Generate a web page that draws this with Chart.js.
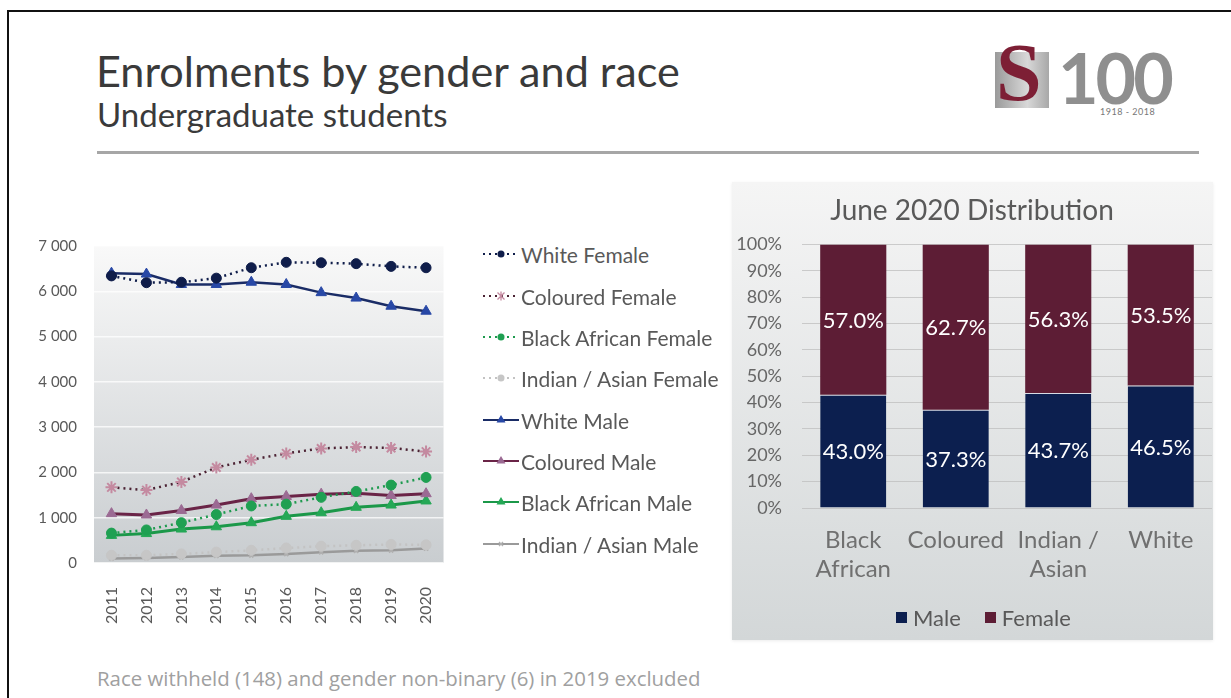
<!DOCTYPE html>
<html>
<head>
<meta charset="utf-8">
<script src="https://cdn.jsdelivr.net/npm/chart.js@4.4.0/dist/chart.umd.min.js"></script>
<style>
  html, body { margin:0; padding:0; background:#fff; }
  body { width:1231px; height:698px; position:relative; overflow:hidden; font-family:Lato, "Open Sans", sans-serif; }
  .frame { position:absolute; left:7px; top:10px; right:-5px; bottom:-5px; border-left:2px solid #111; border-top:2px solid #111; }
  .title { position:absolute; left:96px; top:44px; font-size:43.2px; color:#3a3a3a; white-space:nowrap; }
  .subtitle { position:absolute; left:97px; top:94px; font-size:33px; color:#3a3a3a; white-space:nowrap; }
  .rule { position:absolute; left:97px; top:151px; width:1102px; height:3px; background:#a6a6a6; }
  .footer { position:absolute; left:97px; top:664px; font-family:"Open Sans", sans-serif; font-size:20.4px; color:#a0a0a0; white-space:nowrap; }
  .panel { position:absolute; left:732px; top:182px; width:481px; height:458px;
           background:linear-gradient(#f5f5f5, #d3d7d8); box-shadow:0 1px 3px rgba(0,0,0,0.08); }
  #lineWrap { position:absolute; left:30px; top:220px; width:440px; height:410px; }
  #barWrap { position:absolute; left:732px; top:182px; width:481px; height:458px; }
  .legend { position:absolute; left:482px; top:0; }
  .legItem { position:absolute; left:0; height:26px; display:flex; align-items:center; white-space:nowrap; font-size:21px; color:#595959; }
  .legItem canvas { margin-right:1px; }
  .barLegend { position:absolute; left:896px; top:603px; height:28px; display:flex; align-items:center; white-space:nowrap; font-size:22px; color:#595959; }
  .barLegend .sw { display:inline-block; width:11px; height:11px; margin-right:6px; }
  .logoBox { position:absolute; left:995px; top:52px; width:54px; height:56px; background:linear-gradient(90deg,#9a9a9a,#d8d8d8 60%,#a8a8a8); }
  .logoS { position:absolute; left:996px; top:32px; font-family:"Liberation Serif", serif; font-weight:bold; font-size:82px; color:#7d1f35; line-height:1; }
  .logo100 { position:absolute; left:1058px; top:42px; font-family:Lato, sans-serif; font-weight:700; font-size:70px; letter-spacing:-3px; line-height:1; color:#8f8f8f; }
  .logoYears { position:absolute; left:1100px; top:106px; font-size:9px; color:#777777; letter-spacing:0.5px; }
</style>
</head>
<body>
<div class="frame"></div>
<div class="title">Enrolments by gender and race</div>
<div class="subtitle">Undergraduate students</div>
<div class="rule"></div>
<div class="logoBox"></div>
<div class="logoS">S</div>
<div class="logo100">100</div>
<div class="logoYears">1918 - 2018</div>
<div class="panel"></div>
<div id="lineWrap"><canvas id="lineChart" width="440" height="410"></canvas></div>
<div id="barWrap"><canvas id="barChart" width="481" height="458"></canvas></div>
<div class="legend" id="legend"></div>
<div class="barLegend" id="barLegend"></div>
<div class="footer">Race withheld (148) and gender non-binary (6) in 2019 excluded</div>

<script>
// ---------- DATA ----------
const years = ['2011','2012','2013','2014','2015','2016','2017','2018','2019','2020'];
const whiteFemale    = [6340, 6190, 6200, 6290, 6520, 6640, 6630, 6610, 6550, 6520];
const colouredFemale = [1670, 1610, 1790, 2110, 2280, 2420, 2530, 2560, 2540, 2460];
const blackFemale    = [660, 730, 890, 1070, 1260, 1300, 1450, 1580, 1720, 1890];
const indianFemale   = [170, 170, 200, 240, 280, 330, 370, 390, 410, 400];
const whiteMale      = [6400, 6380, 6150, 6150, 6200, 6150, 5970, 5850, 5670, 5560];
const colouredMale   = [1090, 1060, 1160, 1280, 1420, 1470, 1520, 1540, 1490, 1530];
const blackMale      = [610, 650, 750, 800, 890, 1030, 1110, 1230, 1280, 1370];
const indianMale     = [100, 110, 130, 160, 170, 200, 240, 270, 280, 320];
const yTickValues    = [0, 1000, 2000, 3000, 4000, 5000, 6000, 7000];

const groups      = [['Black','African'], 'Coloured', ['Indian /','Asian'], 'White'];
const maleShare   = [43.0, 37.3, 43.7, 46.5];
const femaleShare = [57.0, 62.7, 56.3, 53.5];
const pctTicks    = [0,10,20,30,40,50,60,70,80,90,100];

// ---------- LINE CHART ----------
const DOT = [2, 4];
const lineSeries = [
  {label:'White Female', data:whiteFemale, line:'#0f1d4a', fill:'#0f1d4a', dash:DOT, style:'circle', r:5, w:2.5},
  {label:'Coloured Female', data:colouredFemale, line:'#4b2233', fill:'#c48aa0', dash:DOT, style:'star', r:6, w:2.5},
  {label:'Black African Female', data:blackFemale, line:'#1d9a4e', fill:'#1fa052', dash:DOT, style:'circle', r:5, w:2.5},
  {label:'Indian / Asian Female', data:indianFemale, line:'#c3c3c3', fill:'#c6c6c6', dash:DOT, style:'circle', r:5, w:2.5},
  {label:'White Male', data:whiteMale, line:'#1a2c66', fill:'#2848a6', dash:[], style:'triangle', r:6, w:2.5},
  {label:'Coloured Male', data:colouredMale, line:'#6a2447', fill:'#9b6a93', dash:[], style:'triangle', r:6, w:3},
  {label:'Black African Male', data:blackMale, line:'#1b9849', fill:'#25a856', dash:[], style:'triangle', r:6, w:3},
  {label:'Indian / Asian Male', data:indianMale, line:'#9a9a9a', fill:'#b0b0b0', dash:[], style:'crossRot', r:3, w:2.5}
];

const plotBg = {
  id:'plotBg',
  beforeDraw(chart){
    const {ctx, chartArea:a} = chart;
    const g = ctx.createLinearGradient(0, a.top, 0, a.bottom);
    g.addColorStop(0, '#f9f9f9');
    g.addColorStop(1, '#c9cdd0');
    ctx.save(); ctx.fillStyle = g; ctx.fillRect(a.left, a.top, a.right-a.left, a.bottom-a.top); ctx.restore();
  }
};

new Chart(document.getElementById('lineChart'), {
  type:'line',
  data:{
    labels:years,
    datasets: lineSeries.map(s => ({
      label:s.label, data:s.data, borderColor:s.line, borderWidth:s.w, borderDash:s.dash,
      pointStyle:s.style, pointRadius:s.r, pointBackgroundColor:s.fill, pointBorderColor:s.fill,
      pointBorderWidth: s.style==='star'||s.style==='crossRot' ? 2 : 1, tension:0, fill:false
    }))
  },
  options:{
    responsive:false, animation:false, events:[],
    layout:{padding:{top:13, right:15, left:0, bottom:0}},
    plugins:{legend:{display:false}, tooltip:{enabled:false}},
    scales:{
      x:{
        offset:true,
        grid:{display:false, drawTicks:false},
        border:{display:false},
        ticks:{minRotation:90, maxRotation:90, padding:24, color:'#595959', font:{family:'Lato', size:16}},
        afterFit(s){ s.height = 67; }
      },
      y:{
        min:0, max:7000,
        afterBuildTicks(s){ s.ticks = yTickValues.map(v => ({value:v})); },
        grid:{color:'rgba(255,255,255,0.75)', lineWidth:1.5, drawTicks:false},
        border:{display:false},
        ticks:{autoSkip:false, padding:17, color:'#595959', font:{family:'Lato', size:15},
               callback:v => v===0 ? '0' : (v/1000) + ' 000'},
        afterFit(s){ s.width = 64; }
      }
    }
  },
  plugins:[plotBg]
});

// HTML legend for line chart
const legendEl = document.getElementById('legend');
const legendTops = [254, 296, 337, 378, 420, 461, 502, 544];
lineSeries.forEach((s, i) => {
  const item = document.createElement('div');
  item.className = 'legItem';
  item.style.top = (legendTops[i] - 13) + 'px';
  const c = document.createElement('canvas');
  c.width = 38; c.height = 20;
  const ctx = c.getContext('2d');
  ctx.strokeStyle = s.line; ctx.lineWidth = 2.2; ctx.setLineDash(s.dash);
  ctx.beginPath(); ctx.moveTo(1,10); ctx.lineTo(37,10); ctx.stroke();
  ctx.setLineDash([]);
  ctx.fillStyle = s.fill; ctx.strokeStyle = s.fill;
  if (s.style === 'circle') { ctx.beginPath(); ctx.arc(19,10,3.5,0,Math.PI*2); ctx.fill(); }
  else if (s.style === 'triangle') { ctx.beginPath(); ctx.moveTo(19,5); ctx.lineTo(23.5,12.5); ctx.lineTo(14.5,12.5); ctx.closePath(); ctx.fill(); }
  else if (s.style === 'star') { ctx.lineWidth=1.3; ctx.beginPath(); ctx.moveTo(15.5,6.5); ctx.lineTo(22.5,13.5); ctx.moveTo(22.5,6.5); ctx.lineTo(15.5,13.5); ctx.moveTo(19,5.5); ctx.lineTo(19,14.5); ctx.stroke(); }
  else { ctx.lineWidth=1.3; ctx.beginPath(); ctx.moveTo(17,8); ctx.lineTo(21,12); ctx.moveTo(21,8); ctx.lineTo(17,12); ctx.stroke(); }
  item.appendChild(c);
  const t = document.createElement('span'); t.textContent = s.label; item.appendChild(t);
  legendEl.appendChild(item);
});

// ---------- BAR CHART ----------
const barColors = {Male:'#0c1f4f', Female:'#5d1d35'};
const barLabels = {
  id:'barLabels',
  afterDatasetsDraw(chart){
    const {ctx} = chart;
    ctx.save();
    ctx.fillStyle = '#ffffff';
    ctx.font = '22px Lato';
    ctx.textAlign = 'center'; ctx.textBaseline = 'middle';
    chart.data.datasets.forEach((ds, di) => {
      chart.getDatasetMeta(di).data.forEach((el, i) => {
        const v = ds.data[i];
        const y = (el.y + el.base) / 2 + 1;
        ctx.fillText(v.toFixed(1) + '%', el.x, y);
      });
    });
    ctx.restore();
  }
};

const barChart = new Chart(document.getElementById('barChart'), {
  type:'bar',
  data:{
    labels:groups,
    datasets:[
      {label:'Male', data:maleShare, backgroundColor:barColors.Male, borderColor:'rgba(210,215,230,0.7)', borderWidth:{top:1}, borderSkipped:false},
      {label:'Female', data:femaleShare, backgroundColor:barColors.Female, borderWidth:0}
    ]
  },
  options:{
    responsive:false, animation:false, events:[],
    layout:{padding:{top:0, right:1, left:0, bottom:58}},
    datasets:{bar:{barPercentage:0.645, categoryPercentage:1}},
    plugins:{
      tooltip:{enabled:false},
      title:{display:true, text:'June 2020 Distribution', color:'#595959', font:{family:'Lato', size:28, weight:'normal'}, padding:{top:12, bottom:17}},
      legend:{display:false}
    },
    scales:{
      x:{
        stacked:true,
        grid:{display:false, drawTicks:false},
        border:{display:false},
        ticks:{padding:18, color:'#707070', font:{family:'Lato', size:24, lineHeight:1.2}, maxRotation:0, autoSkip:false},
        afterFit(s){ s.height = 74; }
      },
      y:{
        stacked:true, min:0, max:100,
        afterBuildTicks(s){ s.ticks = pctTicks.map(v => ({value:v})); },
        grid:{color:'rgba(190,190,190,0.75)', drawTicks:false},
        border:{display:false},
        ticks:{autoSkip:false, padding:20, color:'#666666', font:{family:'Lato', size:18}, callback:v => v + '%'},
        afterFit(s){ s.width = 70; }
      }
    }
  },
  plugins:[barLabels]
});

// HTML legend for bar chart
const bl = document.getElementById('barLegend');
barChart.data.datasets.forEach((ds, i) => {
  const sw = document.createElement('span'); sw.className = 'sw'; sw.style.background = ds.backgroundColor;
  const tx = document.createElement('span'); tx.textContent = ds.label; tx.style.marginRight = i === 0 ? '24px' : '0';
  bl.appendChild(sw); bl.appendChild(tx);
});
</script>
</body>
</html>
